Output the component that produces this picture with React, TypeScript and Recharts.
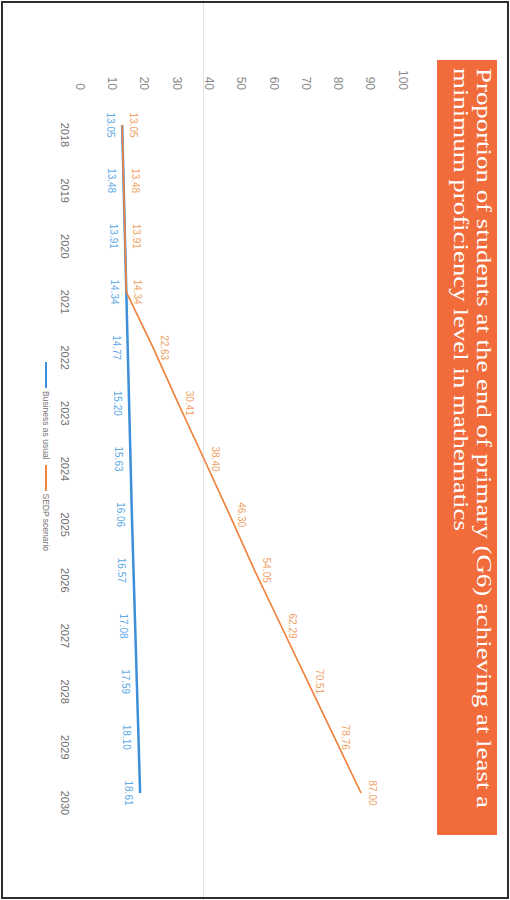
import { LabelList, Legend, Line, LineChart, XAxis, YAxis } from "recharts";

const years = ["2018", "2019", "2020", "2021", "2022", "2023", "2024", "2025", "2026", "2027", "2028", "2029", "2030"];
const businessAsUsual = [13.05, 13.48, 13.91, 14.34, 14.77, 15.2, 15.63, 16.06, 16.57, 17.08, 17.59, 18.1, 18.61];
const sedpScenario = [13.05, 13.48, 13.91, 14.34, 22.63, 30.41, 38.4, 46.3, 54.05, 62.29, 70.51, 78.76, 87.0];
const valueTicks = [0, 10, 20, 30, 40, 50, 60, 70, 80, 90, 100];
const seriesNames = { bau: "Business as usual", sedp: "SEDP scenario" };
const titleLines = [
  "Proportion of students at the end of primary (G6) achieving at least a",
  "minimum proficiency level in mathematics",
];

const data = years.map((year, i) => ({ year, bau: businessAsUsual[i], sedp: sedpScenario[i] }));

const BLUE = "#3d8fd9";
const ORANGE = "#ee8440";

function YearTick({ x, y, payload }: any) {
  return (
    <text x={x + 10} y={y} dy="0.71em" textAnchor="middle" fontSize={11} fill="#6f6f6f">
      {payload.value}
    </text>
  );
}

function ChartLegend({ payload }: any) {
  return (
    <div style={{ display: "flex", alignItems: "center", height: 12, fontSize: 8.5, color: "#777", whiteSpace: "nowrap" }}>
      {(payload || []).map((item: any) => (
        <div key={item.value} style={{ display: "flex", alignItems: "center", marginRight: 5 }}>
          <span style={{ display: "inline-block", width: 26, height: 2.5, background: item.color, marginRight: 3 }} />
          <span>{item.value}</span>
        </div>
      ))}
    </div>
  );
}

export default function App() {
  return (
    <div style={{ position: "absolute", left: 0, top: 0, width: 510, height: 900, background: "#fff", overflow: "hidden" }}>
      {/* faint crease across the page */}
      <div style={{ position: "absolute", left: 203, top: 0, width: 1, height: 900, background: "#e2e2e2" }} />

      {/* the chart is laid out landscape and turned a quarter clockwise */}
      <div
        style={{
          position: "absolute",
          left: 0,
          top: 0,
          width: 900,
          height: 510,
          transformOrigin: "0 0",
          transform: "translate(510px, 0) rotate(90deg)",
          fontFamily: "'Liberation Sans', Arial, sans-serif",
        }}
      >
        <div style={{ position: "absolute", left: 60, top: 13, width: 775, height: 60, background: "#f16b3b" }}>
          <svg width={775} height={60} style={{ display: "block" }}>
            <text x={8} y={20} fontSize={20} fill="#fff" fontFamily="'Liberation Serif', 'Times New Roman', serif" textLength={740} lengthAdjust="spacingAndGlyphs">
              {titleLines[0]}
            </text>
            <text x={8} y={43} fontSize={20} fill="#fff" fontFamily="'Liberation Serif', 'Times New Roman', serif" textLength={463} lengthAdjust="spacingAndGlyphs">
              {titleLines[1]}
            </text>
          </svg>
        </div>

        <LineChart width={900} height={510} data={data} margin={{ top: 107, right: 107, bottom: 50, left: 85 }}>
          <XAxis
            dataKey="year"
            axisLine={false}
            tickLine={false}
            tickSize={6}
            tickMargin={5}
            height={30}
            interval={0}
            tick={<YearTick />}
          />
          <YAxis
            domain={[0, 100]}
            ticks={valueTicks}
            axisLine={false}
            tickLine={false}
            tickSize={6}
            tickMargin={29}
            width={40}
            tick={{ fontSize: 12, fill: "#8a8a8a" }}
          />
          <Legend
            verticalAlign="middle"
            content={<ChartLegend />}
            wrapperStyle={{ left: 362, top: 458, width: "auto", height: 12 }}
          />
          <Line
            type="linear"
            dataKey="bau"
            name={seriesNames.bau}
            stroke={BLUE}
            strokeWidth={2.5}
            dot={false}
            isAnimationActive={false}
          >
            <LabelList
              dataKey="bau"
              position="bottom"
              offset={8}
              fontSize={10}
              fill="#5eaae6"
              formatter={(v: any) => Number(v).toFixed(2)}
            />
          </Line>
          <Line
            type="linear"
            dataKey="sedp"
            name={seriesNames.sedp}
            stroke={ORANGE}
            strokeWidth={1.7}
            dot={false}
            isAnimationActive={false}
          >
            <LabelList
              dataKey="sedp"
              position="top"
              offset={8}
              fontSize={10}
              fill="#f0a265"
              formatter={(v: any) => Number(v).toFixed(2)}
            />
          </Line>
        </LineChart>
      </div>

      <div
        style={{
          position: "absolute",
          left: 1,
          top: 1,
          width: 508,
          height: 898,
          border: "2px solid #2e2e2e",
          boxSizing: "border-box",
          pointerEvents: "none",
        }}
      />
    </div>
  );
}
